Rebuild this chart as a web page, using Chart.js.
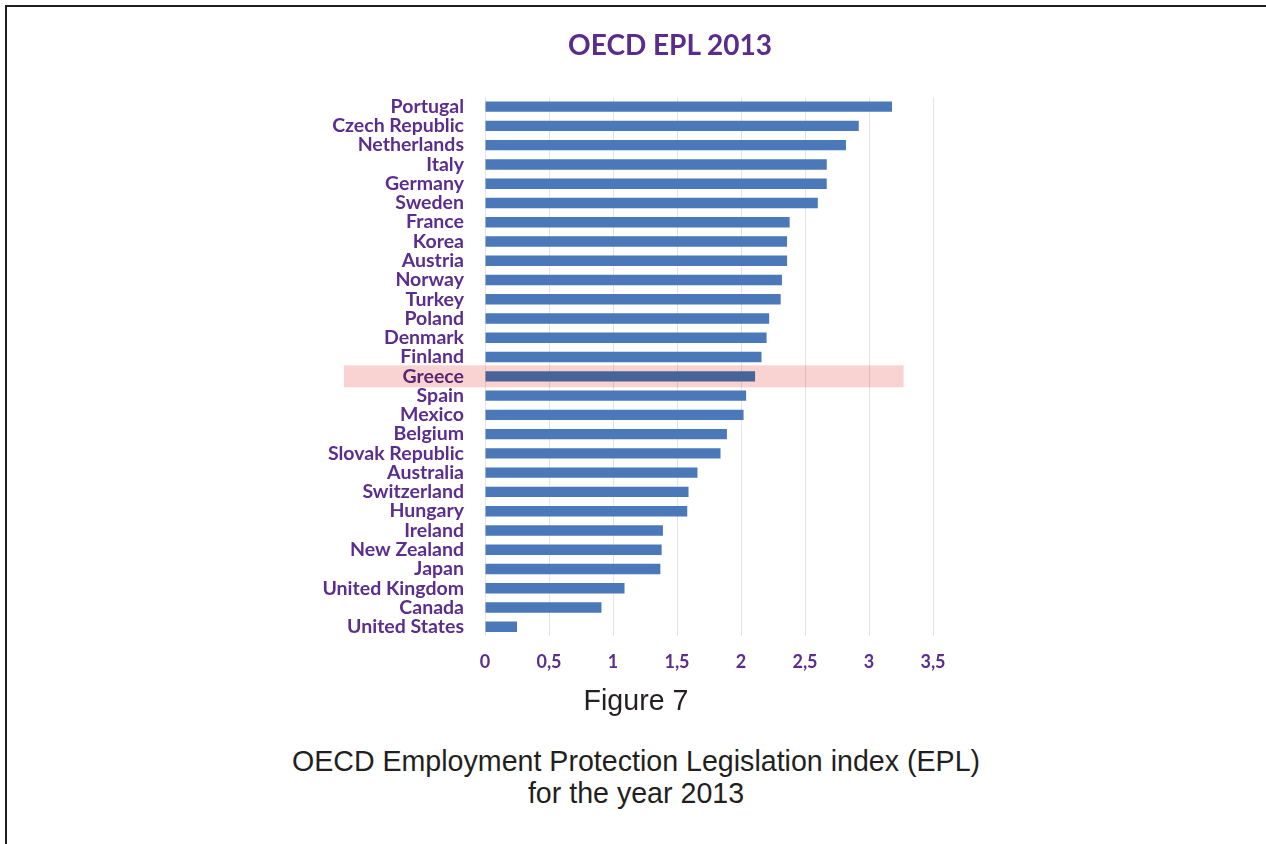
<!DOCTYPE html>
<html><head><meta charset="utf-8">
<script src="https://cdn.jsdelivr.net/npm/chart.js@4/dist/chart.umd.min.js"></script>
<style>
html,body{margin:0;padding:0;background:#fff;}
#page{position:relative;width:1266px;height:844px;overflow:hidden;background:#fff;}
#frame{position:absolute;left:5px;top:5px;right:-10px;bottom:-10px;border-left:2px solid #231f20;border-top:2px solid #231f20;}
#wrap{position:absolute;left:0;top:0;width:1266px;height:705px;}
#title{position:absolute;left:0;top:27px;width:1340px;text-align:center;font-family:Lato,sans-serif;font-weight:bold;font-size:28px;line-height:34px;color:#5a2d8c;}
.cap{position:absolute;left:0;width:1272px;text-align:center;font-family:"Liberation Sans",Arial,sans-serif;color:#231f20;font-size:28.6px;line-height:32px;}
</style></head>
<body><div id="page"><div id="frame"></div><div id="wrap"><canvas id="c"></canvas></div>
<div id="title">OECD EPL 2013</div>
<div class="cap" style="top:684px">Figure 7</div>
<div class="cap" style="top:745px">OECD Employment Protection Legislation index (EPL)</div>
<div class="cap" style="top:777px">for the year 2013</div>
</div>
<script>
const countries = ['Portugal','Czech Republic','Netherlands','Italy','Germany','Sweden','France','Korea','Austria','Norway','Turkey','Poland','Denmark','Finland','Greece','Spain','Mexico','Belgium','Slovak Republic','Australia','Switzerland','Hungary','Ireland','New Zealand','Japan','United Kingdom','Canada','United States'];
const eplValues = [3.18,2.92,2.82,2.67,2.67,2.60,2.38,2.36,2.36,2.32,2.31,2.22,2.20,2.16,2.11,2.04,2.02,1.89,1.84,1.66,1.59,1.58,1.39,1.38,1.37,1.09,0.91,0.25];
const xTickLabels = ['0','0,5','1','1,5','2','2,5','3','3,5'];
const highlightCountry = 'Greece';
const highlightEnd = 3.27;

const purple = '#5b2d8e';

const bandPlugin = {
  id: 'band',
  afterDraw(chart) {
    const y = chart.scales.y, x = chart.scales.x;
    const idx = countries.indexOf(highlightCountry);
    const cy = y.getPixelForValue(idx);
    const h = 22;
    const x0 = chart.chartArea.left - 141;
    const x1 = x.getPixelForValue(highlightEnd);
    const ctx = chart.ctx;
    ctx.save();
    ctx.globalCompositeOperation = 'multiply';
    ctx.fillStyle = '#f9d3d1';
    ctx.fillRect(x0, cy - h/2, x1 - x0, h);
    ctx.restore();
  }
};

new Chart(document.getElementById('c'), {
  type: 'bar',
  data: {
    labels: countries,
    datasets: [{
      data: eplValues,
      backgroundColor: '#4a78b8',
      barPercentage: 0.54,
      categoryPercentage: 1.0
    }]
  },
  options: {
    indexAxis: 'y',
    responsive: true,
    maintainAspectRatio: false,
    animation: false,
    layout: { padding: { left: 300, right: 333, top: 97, bottom: 17 } },
    plugins: {
      legend: { display: false },
      tooltip: { enabled: false },
      title: { display: false }
    },
    scales: {
      x: {
        min: 0, max: 3.5,
        ticks: {
          stepSize: 0.5,
          color: purple,
          padding: 15,
          font: { family: 'Lato', size: 18, weight: 'bold' },
          callback: (v, i) => xTickLabels[i]
        },
        grid: { color: '#e4e4e4', drawTicks: false },
        border: { display: false }
      },
      y: {
        ticks: {
          color: purple,
          padding: 21,
          autoSkip: false,
          font: { family: 'Lato', size: 19.5, weight: 'bold' }
        },
        grid: { display: false, drawTicks: false },
        border: { display: false },
        afterFit: (s) => { s.width = 185; }
      }
    }
  },
  plugins: [bandPlugin]
});
</script>
</body></html>
